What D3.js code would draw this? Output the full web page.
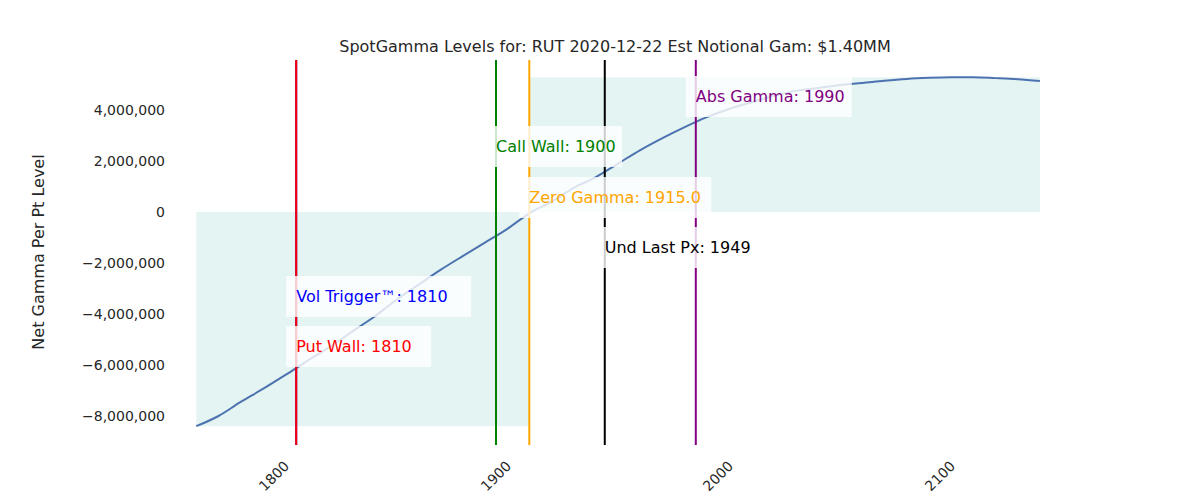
<!DOCTYPE html>
<html><head><meta charset="utf-8">
<script src="https://cdn.jsdelivr.net/npm/d3@7"></script>
<style>body{margin:0;background:#fff}text{font-family:"DejaVu Sans",sans-serif}</style>
</head><body><svg id="chart" width="1200" height="500"></svg>
<script>
const strikes = [1765,1775,1785,1795,1805,1815,1825,1835,1845,1855,1865,1875,1885,1895,1905,1915,1925,1935,1945,1955,1965,1975,1985,1995,2005,2015,2025,2035,2045,2055,2065,2075,2085,2095,2105,2115,2125,2135,2145];
const gammaM = [-8.4,-8.0,-7.45,-6.94,-6.4,-5.84,-5.3,-4.7,-4.12,-3.45,-2.86,-2.27,-1.73,-1.2,-0.67,-0.05,0.4,0.95,1.37,1.9,2.43,2.9,3.33,3.72,4.04,4.3,4.55,4.75,4.86,4.98,5.06,5.15,5.22,5.26,5.28,5.28,5.25,5.21,5.14];
const xTicks = [1800,1900,2000,2100];
const yTicks = [-8e6,-6e6,-4e6,-2e6,0,2e6,4e6];
const levels = [
  {label:"Call Wall: 1900", value:1900, color:"green", ty:146, bw:136},
  {label:"Zero Gamma: 1915.0", value:1915.0, color:"orange", ty:197, bw:192},
  {label:"Und Last Px: 1949", value:1949, color:"black", ty:247, bw:162},
  {label:"Abs Gamma: 1990", value:1990, color:"purple", ty:96, bw:166},
  {label:"Vol Trigger\u2122: 1810", value:1810, color:"blue", ty:296, bw:185},
  {label:"Put Wall: 1810", value:1810, color:"red", ty:346, bw:145}
];
const title = "SpotGamma Levels for: RUT  2020-12-22 Est Notional Gam: $1.40MM";

const data = strikes.map((s,i)=>({s, v:gammaM[i]*1e6}));
const svg = d3.select("#chart");
const plotTop = 60, plotBottom = 445;
const x = d3.scaleLinear().domain([1900,2000]).range([496,718]);
const y = d3.scaleLinear().domain([0,2e6]).range([212,161]);
const zero = 1915;

// fills
const minV = d3.min(data,d=>d.v), maxV = d3.max(data,d=>d.v);
svg.append("rect").attr("x",x(strikes[0])).attr("y",y(0))
  .attr("width",x(zero)-x(strikes[0])).attr("height",y(minV)-y(0)).attr("fill","#e4f4f2");
svg.append("rect").attr("x",x(zero)).attr("y",y(maxV))
  .attr("width",x(strikes[strikes.length-1])-x(zero)).attr("height",y(0)-y(maxV)).attr("fill","#e4f4f2");

svg.append("path").datum(data)
  .attr("d",d3.line().x(d=>x(d.s)).y(d=>y(d.v)).curve(d3.curveMonotoneX))
  .attr("fill","none").attr("stroke","#4c72b0").attr("stroke-width",2);

levels.forEach(l=>{
  svg.append("line").attr("x1",x(l.value)).attr("x2",x(l.value)).attr("y1",plotTop).attr("y2",plotBottom)
    .attr("stroke",l.color).attr("stroke-width",2);
});
levels.forEach(l=>{
  svg.append("rect").attr("x",x(l.value)-10).attr("y",l.ty-20).attr("width",l.bw).attr("height",41)
    .attr("fill","white").attr("opacity",0.8);
  svg.append("text").attr("x",x(l.value)).attr("y",l.ty).attr("dy","0.35em")
    .attr("fill",l.color).attr("font-size",16).text(l.label);
});

// axes
svg.selectAll(".yt").data(yTicks).join("text").attr("x",165).attr("y",d=>y(d)).attr("dy","0.35em")
  .attr("text-anchor","end").attr("font-size",14).attr("fill","#262626").text(d3.format(","));
svg.selectAll(".xt").data(xTicks).join("text")
  .attr("transform",d=>`translate(${x(d)},${476}) rotate(-45)`)
  .attr("text-anchor","middle").attr("dy","0.35em").attr("font-size",14).attr("fill","#262626").text(d=>d);
svg.append("text").attr("transform","translate(44,252) rotate(-90)").attr("text-anchor","middle")
  .attr("font-size",16).attr("fill","#262626").text("Net Gamma Per Pt Level");
svg.append("text").attr("x",615).attr("y",52).attr("text-anchor","middle")
  .attr("font-size",16).attr("fill","#262626").text(title);
</script></body></html>
